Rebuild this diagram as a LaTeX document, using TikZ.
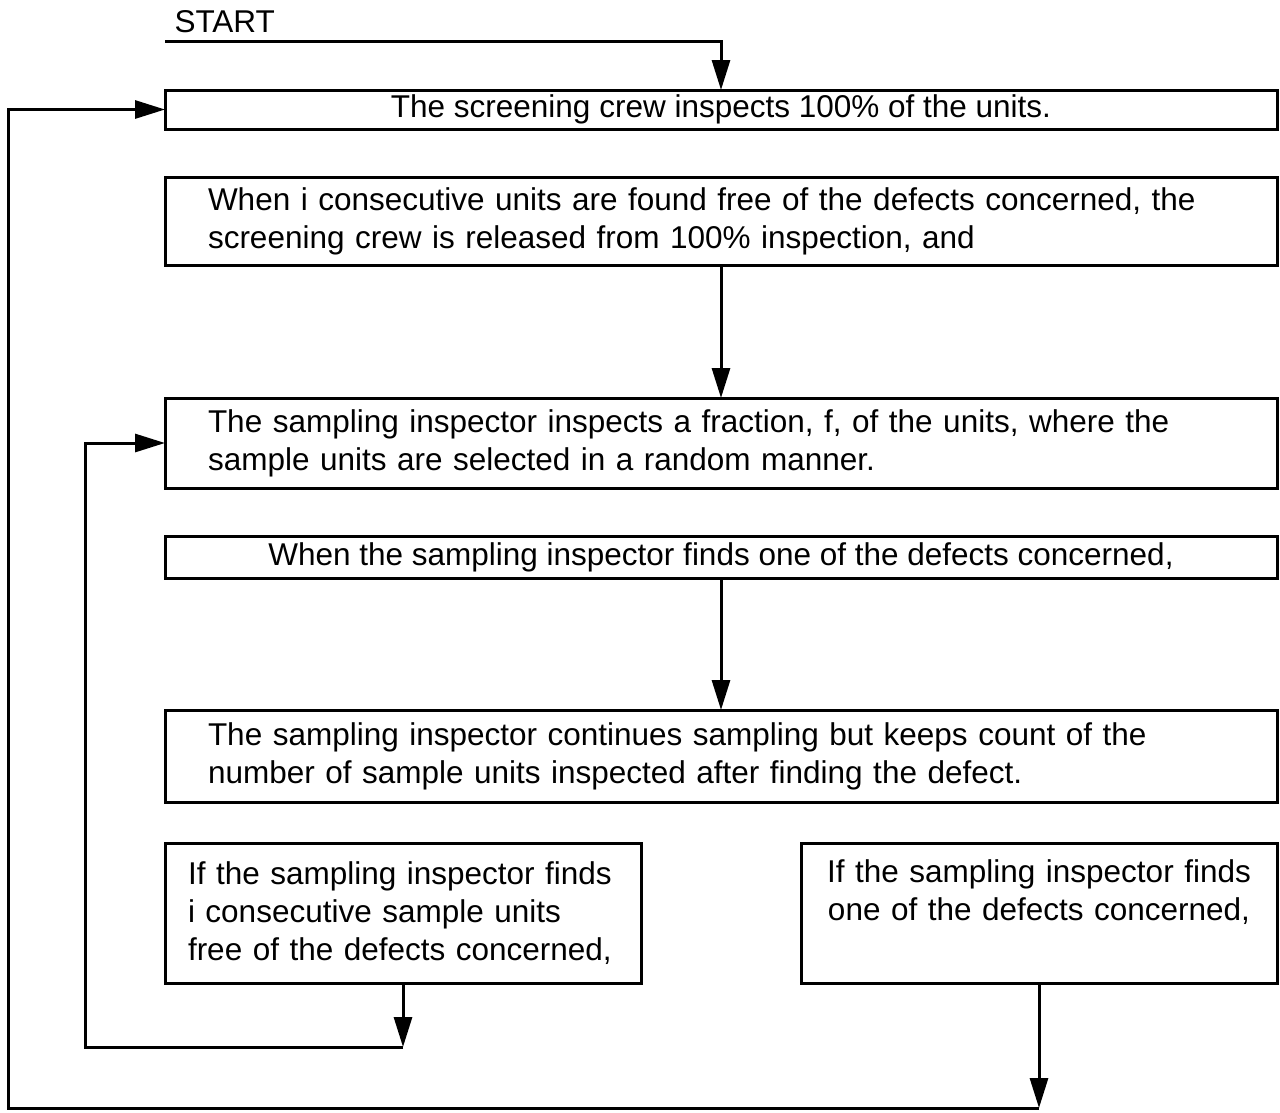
\documentclass[tikz,border=0pt]{standalone}
\usepackage{fontspec}
\setmainfont{Liberation Sans}
\usetikzlibrary{positioning, arrows.meta}

\begin{document}
\begin{tikzpicture}[x=1pt, y=-1pt, line width=3pt]
    \useasboundingbox (0,0) rectangle (1280,1112);

    % Define styles
    \tikzset{
        stepbox/.style={draw, anchor=north west, inner sep=0pt, outer sep=0pt,
            font=\fontsize{31.5}{38}\selectfont},
        wide/.style={stepbox, minimum width=1112pt, text width=1026pt, align=left},
        flow/.style={-{Triangle[length=30pt,width=18pt]}}
    }

    % Define nodes
	\node[anchor=base west, inner sep=0pt, font=\fontsize{31.5}{38}\selectfont] (Start) at (173,32) {START};
	\node[stepbox, minimum width=1112pt, minimum height=39pt] (Screen) at (165,90) {The screening crew inspects 100\% of the units.};
	\node[wide, minimum height=88pt] (Release) at (165,177) {When i consecutive units are found free of the defects concerned, the\\screening crew is released from 100\% inspection, and};
	\node[wide, minimum height=90pt] (Sample) at (165,398) {The sampling inspector inspects a fraction, f, of the units, where the\\sample units are selected in a random manner.};
	\node[stepbox, minimum width=1112pt, minimum height=42pt] (Defect) at (165,536) {When the sampling inspector finds one of the defects concerned,};
	\node[wide, minimum height=92pt] (Count) at (165,710) {The sampling inspector continues sampling but keeps count of the\\number of sample units inspected after finding the defect.};
	\node[stepbox, minimum width=476pt, minimum height=140pt, text width=430pt, align=left] (Free) at (165,843) {If the sampling inspector finds\\i consecutive sample units\\free of the defects concerned,};
	\node[stepbox, minimum width=476pt, minimum height=140pt, text width=440pt, align=center] (Found) at (801,843) {If the sampling inspector finds\\one of the defects concerned,\\[-4pt]\strut};

	\coordinate (StartLine) at (165,41);
	\coordinate (FreeEnd) at (403,1047);
	\coordinate (FreeLoop) at (85,443);
	\coordinate (FoundEnd) at (1039,1108);
	\coordinate (FoundLoop) at (8,109.5);

    % Draw connectors
	\draw[flow] (StartLine) -| (Screen);
	\draw[flow] (Release) -- (Sample);
	\draw[flow] (Defect) -- (Count);
	\draw[flow] (Free) -- (FreeEnd);
	\draw[flow] (FreeEnd) -| (FreeLoop) -- (Sample);
	\draw[flow] (Found) -- (FoundEnd);
	\draw[flow] (FoundEnd) -| (FoundLoop) -- (Screen);
\end{tikzpicture}
\end{document}
